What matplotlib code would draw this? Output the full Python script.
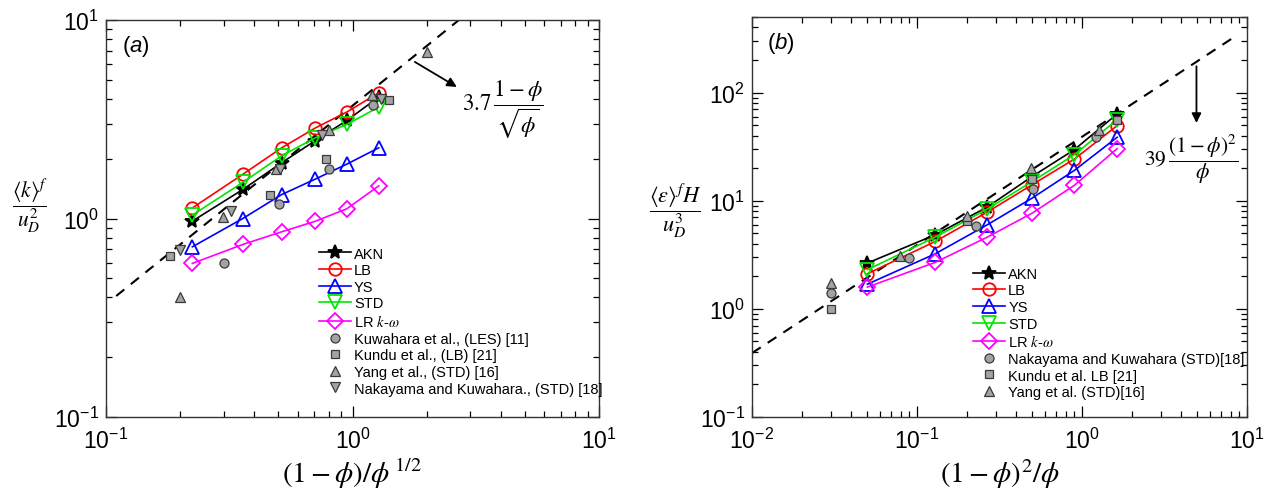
import numpy as np
import matplotlib
matplotlib.use("Agg")
import matplotlib.pyplot as plt
from matplotlib.font_manager import FontProperties
from matplotlib.ticker import LogLocator, FuncFormatter, NullFormatter

plt.rcParams["font.family"] = ["Liberation Sans", "DejaVu Sans"]
plt.rcParams["mathtext.fontset"] = "custom"
plt.rcParams["mathtext.rm"] = "Liberation Sans"
plt.rcParams["mathtext.it"] = "Liberation Sans:italic"
plt.rcParams["axes.unicode_minus"] = False

# ---------------- panel (a): turbulent kinetic energy ----------------
xa_sim = [0.224, 0.359, 0.516, 0.707, 0.949, 1.278]
ka_akn = [0.97, 1.40, 1.91, 2.47, 3.12, 4.09]
ka_lb = [1.13, 1.67, 2.27, 2.86, 3.44, 4.30]
ka_ys = [0.72, 1.00, 1.32, 1.58, 1.88, 2.27]
ka_std = [1.04, 1.52, 2.07, 2.55, 2.98, 3.64]
ka_lrkw = [0.594, 0.74, 0.857, 0.969, 1.12, 1.46]

xa_kuwahara = [0.301, 0.504, 0.80, 1.21]
ka_kuwahara = [0.598, 1.19, 1.78, 3.75]
xa_kundu = [0.181, 0.461, 0.78, 1.40]
ka_kundu = [0.65, 1.32, 2.0, 3.96]
xa_yang = [0.20, 0.299, 0.49, 0.805, 1.20, 2.01]
ka_yang = [0.40, 1.02, 1.78, 2.80, 4.20, 6.93]
xa_nakayama = [0.20, 0.321, 0.508, 0.75, 1.31]
ka_nakayama = [0.693, 1.09, 1.78, 2.62, 4.01]

coef_a = 3.7
xa_fit = [0.11, 3.0]

# ---------------- panel (b): dissipation rate ----------------
xb_sim = [0.05, 0.129, 0.267, 0.5, 0.9, 1.633]
eb_akn = [2.65, 4.84, 8.75, 16.8, 29.7, 63.5]
eb_lb = [2.11, 4.2, 7.86, 14.1, 24.3, 49.5]
eb_ys = [1.69, 3.23, 6.0, 10.6, 19.1, 38.6]
eb_std = [2.30, 4.61, 8.38, 15.1, 26.7, 56.2]
eb_lrkw = [1.59, 2.69, 4.61, 7.69, 13.9, 30.3]

xb_nakayama = [0.030, 0.090, 0.228, 0.503, 1.21]
eb_nakayama = [1.40, 2.94, 5.9, 12.9, 38.6]
xb_kundu = [0.030, 0.202, 0.497, 1.63]
eb_kundu = [0.99, 6.53, 15.9, 55.4]
xb_yang = [0.030, 0.0793, 0.202, 0.491, 1.26]
eb_yang = [1.75, 3.05, 7.16, 20.1, 44.8]

coef_b = 39.0
xb_fit = [0.01, 8.3]

sim_styles = [
    ("AKN", "black", "*", 10),
    ("LB", "#ff0000", "o", 9),
    ("YS", "#0000ff", "^", 10),
    ("STD", "#00e600", "v", 10),
    ("LR $k$-$\\omega$", "#ff00ff", "D", 8),
]
grey_face = "#a3a3a3"
grey_edge = "#3a3a3a"

W, H = 1266, 489
fig = plt.figure(figsize=(W / 100, H / 100), dpi=100)
ax1 = fig.add_axes([106 / W, 1 - 418 / H, 493 / W, 397 / H])
ax2 = fig.add_axes([752 / W, 1 - 418 / H, 495 / W, 400 / H])


def sim_lines(ax, x, series):
    for (label, color, marker, ms), y in zip(sim_styles, series):
        face = color if marker == "*" else "none"
        ax.plot(x, y, color=color, lw=1.2, marker=marker, ms=ms,
                mfc=face, mec=color, mew=1.3, label=label, zorder=3)


def ref_points(ax, x, y, marker, label, ms=6.5):
    ax.plot(x, y, ls="none", marker=marker, ms=ms, mfc=grey_face,
            mec=grey_edge, mew=0.9, label=label, zorder=4)


def style_axis(ax, xlim, ylim):
    ax.set_xscale("log")
    ax.set_yscale("log")
    ax.set_xlim(*xlim)
    ax.set_ylim(*ylim)
    fmt = FuncFormatter(lambda v, p: "10$^{%d}$" % int(round(np.log10(v))))
    for axis in (ax.xaxis, ax.yaxis):
        axis.set_major_locator(LogLocator(base=10, numticks=10))
        axis.set_minor_locator(LogLocator(base=10, subs=np.arange(2, 10), numticks=10))
        axis.set_major_formatter(fmt)
        axis.set_minor_formatter(NullFormatter())
    ax.tick_params(which="both", direction="in", top=True, right=True,
                   labelsize=16.5, width=0.9, colors="black")
    ax.tick_params(which="major", length=8)
    ax.tick_params(axis="x", which="major", pad=8)
    ax.tick_params(axis="y", which="major", pad=5)
    ax.tick_params(which="minor", length=4)
    for s in ax.spines.values():
        s.set_linewidth(1.0)
        s.set_color("#333333")


# panel (a)
sim_lines(ax1, xa_sim, [ka_akn, ka_lb, ka_ys, ka_std, ka_lrkw])
ref_points(ax1, xa_kuwahara, ka_kuwahara, "o", "Kuwahara et al., (LES) [11]")
ref_points(ax1, xa_kundu, ka_kundu, "s", "Kundu et al., (LB) [21]", ms=6)
ref_points(ax1, xa_yang, ka_yang, "^", "Yang et al., (STD) [16]", ms=7)
ref_points(ax1, xa_nakayama, ka_nakayama, "v", "Nakayama and Kuwahara., (STD) [18]", ms=7)
ax1.plot(xa_fit, [coef_a * v for v in xa_fit], color="black", lw=1.5,
         ls=(0, (5, 4)), zorder=2)
style_axis(ax1, (0.1, 10), (0.1, 10))

# panel (b)
sim_lines(ax2, xb_sim, [eb_akn, eb_lb, eb_ys, eb_std, eb_lrkw])
ref_points(ax2, xb_nakayama, eb_nakayama, "o", "Nakayama and Kuwahara (STD)[18]")
ref_points(ax2, xb_kundu, eb_kundu, "s", "Kundu et al. LB [21]", ms=6)
ref_points(ax2, xb_yang, eb_yang, "^", "Yang et al. (STD)[16]", ms=7)
ax2.plot(xb_fit, [coef_b * v for v in xb_fit], color="black", lw=1.5,
         ls=(0, (5, 4)), zorder=2)
style_axis(ax2, (0.01, 10), (0.1, 500))

leg_prop = FontProperties(family="Liberation Sans", size=10.5, math_fontfamily="stix")
for ax, anchor in ((ax1, (0.42, 0.444)), (ax2, (0.435, 0.39))):
    ax.legend(loc="upper left", bbox_to_anchor=anchor, frameon=False,
              prop=leg_prop, handlelength=2.2, handletextpad=0.2,
              labelspacing=0.18, borderaxespad=0, numpoints=1)

# axis labels
ax1.set_xlabel(r"$(1-\phi)/\phi^{\,1/2}$", fontsize=21, math_fontfamily="stix",
               labelpad=2)
ax2.set_xlabel(r"$(1-\phi)^2/\phi$", fontsize=21, math_fontfamily="stix",
               labelpad=2)
fig.text(30 / W, 1 - 206 / H, r"$\dfrac{\langle k\rangle^f}{u_D^2}$",
         fontsize=15.5, math_fontfamily="stix", ha="center", va="center")
fig.text(675 / W, 1 - 211 / H, r"$\dfrac{\langle \varepsilon\rangle^f H}{u_D^3}$",
         fontsize=16, math_fontfamily="stix", ha="center", va="center")

# panel tags
ax1.text(0.032, 0.935, r"($a$)", transform=ax1.transAxes, fontsize=16, va="center")
ax2.text(0.03, 0.937, r"($b$)", transform=ax2.transAxes, fontsize=16, va="center")

# fit annotations
ax1.annotate("", xy=(2.65, 4.6), xytext=(1.79, 6.15),
             arrowprops=dict(arrowstyle="-|>", color="black", lw=1.3,
                             mutation_scale=14, shrinkA=0, shrinkB=0))
ax1.text(4.08, 3.57, r"$3.7\,\dfrac{1-\phi}{\sqrt{\phi}}$", fontsize=16.5,
         math_fontfamily="stix", ha="center", va="center")
ax2.annotate("", xy=(4.94, 52.4), xytext=(4.94, 175),
             arrowprops=dict(arrowstyle="-|>", color="black", lw=1.3,
                             mutation_scale=14, shrinkA=0, shrinkB=0))
ax2.text(4.6, 25.0, r"$39\,\dfrac{(1-\phi)^2}{\phi}$", fontsize=15.5,
         math_fontfamily="stix", ha="center", va="center")

fig.savefig("out.png", dpi=100)
